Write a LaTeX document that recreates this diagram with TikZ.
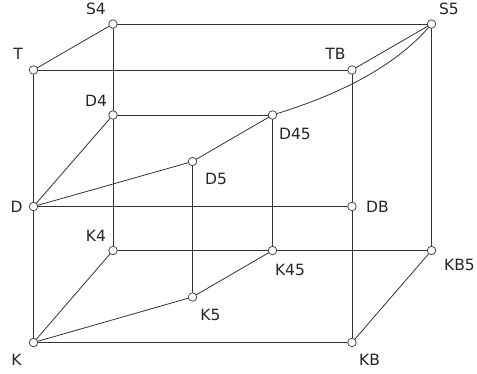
\documentclass[tikz,border=0pt]{standalone}
\usepackage{fontspec}
\setmainfont{DejaVu Sans}
\usetikzlibrary{backgrounds}
\begin{document}
\begin{tikzpicture}[x=1pt,y=-1pt,
  pt/.style={circle,draw=black!70,fill=white,line width=0.8pt,inner sep=0pt,minimum size=8.5pt},
  lbl/.style={anchor=base,text=black!85,font=\fontsize{15.5}{17}\selectfont,inner sep=0pt},
  edge/.style={draw=black!80,line width=0.8pt}]
\useasboundingbox (0,0) rectangle (477,374);
% points
\node[pt] (S4) at (113,24) {};
\node[pt] (S5) at (431.5,24) {};
\node[pt] (T) at (33.5,70) {};
\node[pt] (TB) at (352,70) {};
\node[pt] (D4) at (113,115) {};
\node[pt] (D45) at (272.5,115) {};
\node[pt] (D5) at (192.5,161.5) {};
\node[pt] (D) at (33.5,206.5) {};
\node[pt] (DB) at (352,206.5) {};
\node[pt] (K4) at (113,250.5) {};
\node[pt] (K45) at (272.5,250.5) {};
\node[pt] (KB5) at (431.5,250.5) {};
\node[pt] (K5) at (192.5,297) {};
\node[pt] (K) at (33.5,342.5) {};
\node[pt] (KB) at (352,342.5) {};
% edges
\begin{pgfonlayer}{background}
\path[edge] (S4.center) -- (S5.center);
\path[edge] (S4.center) -- (T.center);
\path[edge] (T.center) -- (TB.center);
\path[edge] (TB.center) -- (S5.center);
\path[edge] (T.center) -- (D.center);
\path[edge] (D.center) -- (K.center);
\path[edge] (S4.center) -- (D4.center);
\path[edge] (D4.center) -- (K4.center);
\path[edge] (TB.center) -- (DB.center);
\path[edge] (DB.center) -- (KB.center);
\path[edge] (S5.center) -- (KB5.center);
\path[edge] (D4.center) -- (D45.center);
\path[edge] (D4.center) -- (D.center);
\path[edge] (D.center) -- (D5.center);
\path[edge] (D5.center) -- (D45.center);
\path[edge] (D45.center) .. controls (335,96) and (395,68) .. (S5.center);
\path[edge] (D.center) -- (DB.center);
\path[edge] (D5.center) -- (K5.center);
\path[edge] (D45.center) -- (K45.center);
\path[edge] (K4.center) -- (K45.center);
\path[edge] (K45.center) -- (KB5.center);
\path[edge] (K4.center) -- (K.center);
\path[edge] (K.center) -- (K5.center);
\path[edge] (K5.center) -- (K45.center);
\path[edge] (K.center) -- (KB.center);
\path[edge] (KB.center) -- (KB5.center);
\end{pgfonlayer}
% labels
\node[lbl] (lS4) at (96,15) {S4};
\node[lbl] (lS5) at (449,15) {S5};
\node[lbl] (lT) at (18,60) {T};
\node[lbl] (lTB) at (335.5,60) {TB};
\node[lbl] (lD4) at (96,107) {D4};
\node[lbl] (lD45) at (295,140) {D45};
\node[lbl] (lD5) at (216,185) {D5};
\node[lbl] (lD) at (16.5,213) {D};
\node[lbl] (lDB) at (377.5,213) {DB};
\node[lbl] (lK4) at (96,242) {K4};
\node[lbl] (lK45) at (290,276) {K45};
\node[lbl] (lK5) at (210.5,321) {K5};
\node[lbl] (lKB5) at (459.5,271) {KB5};
\node[lbl] (lKB) at (369.5,366) {KB};
\node[lbl] (lK) at (16.5,366) {K};
\end{tikzpicture}
\end{document}
